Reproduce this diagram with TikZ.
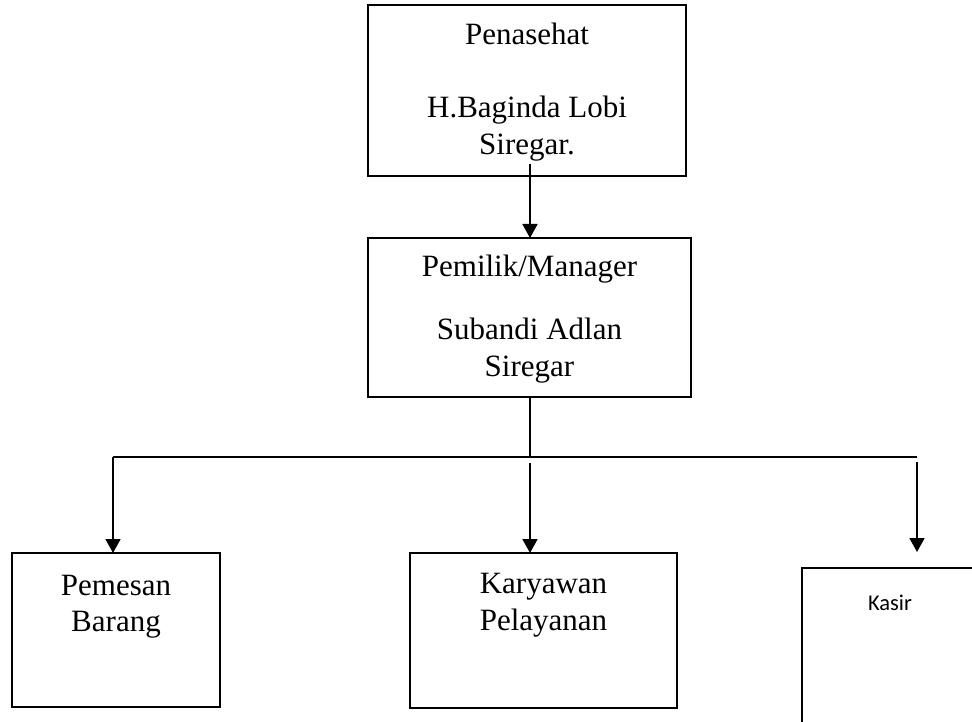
\documentclass[tikz,border=0pt]{standalone}
\usepackage{fontspec}
\setmainfont{Liberation Serif}
\newfontfamily\kasirfont{Carlito}
\usetikzlibrary{arrows.meta}
\begin{document}
\begin{tikzpicture}[x=1pt,y=1pt,
  box/.style={draw, line width=1.5pt, rectangle, inner sep=0pt, outer sep=0pt},
  txt/.style={anchor=base, inner sep=0pt, font=\fontsize{31}{37}\selectfont},
  ktxt/.style={anchor=base, inner sep=0pt, font=\kasirfont\fontsize{22.5}{27}\selectfont},
  conn/.style={line width=1.8pt},
  arr/.style={line width=1.8pt, -{Triangle[width=15pt,length=14pt]}}]
\useasboundingbox (0,0) rectangle (972,721);
\clip (0,0) rectangle (972,721);
\fill[white] (0,0) rectangle (972,721);
% boxes
\node[box, minimum width=318pt, minimum height=171pt] (top) at (527,630.5) {};
\node[box, minimum width=323pt, minimum height=159pt] (mid) at (529.5,403.5) {};
\node[box, minimum width=208pt, minimum height=154pt] (lft) at (116,91) {};
\node[box, minimum width=267pt, minimum height=155pt] (mb) at (543.5,90.5) {};
\node[box, minimum width=176pt, minimum height=172pt] (ks) at (890,67) {};
% texts
\node[txt] (t1) at (527,676) {Penasehat};
\node[txt] (t2) at (527,603) {H.Baginda Lobi};
\node[txt] (t3) at (527,566) {Siregar.};
\node[txt] (m1) at (529.5,444) {Pemilik/Manager};
\node[txt] (m2) at (529.5,381) {Subandi Adlan};
\node[txt] (m3) at (529.5,344) {Siregar};
\node[txt] (l1) at (116,126) {Pemesan};
\node[txt] (l2) at (116,90) {Barang};
\node[txt] (b1) at (543.5,128) {Karyawan};
\node[txt] (b2) at (543.5,91) {Pelayanan};
\node[ktxt] (k1) at (890,111) {Kasir};
% connectors
\coordinate (a1) at (530,557);
\draw[arr] (a1) -- (a1 |- mid.north);
\coordinate (j) at (530,264);
\coordinate (hl) at (113,264);
\coordinate (hr) at (917,264);
\draw[conn] (j |- mid.south) -- (j);
\draw[conn] (hl) -- (hr);
\draw[arr] (hl) -- (hl |- lft.north);
\coordinate (jm) at (530,258);
\draw[arr] (jm) -- (jm |- mb.north);
\coordinate (kr) at (917,259);
\coordinate (kt) at (917,169);
\draw[arr] (kr) -- (kt);
\end{tikzpicture}
\end{document}
